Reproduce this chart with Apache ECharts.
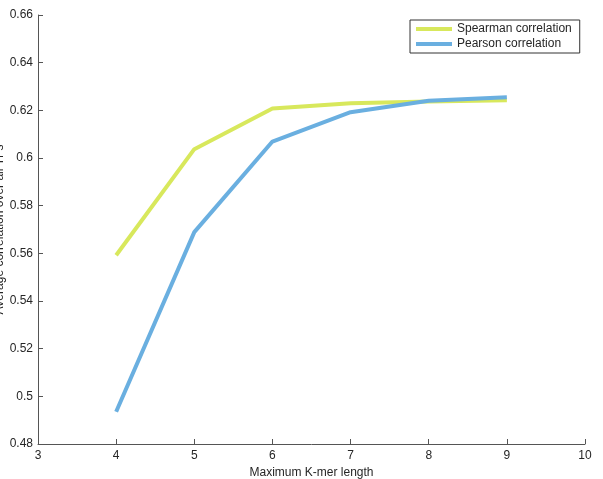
<!DOCTYPE html>
<html>
<head>
<meta charset="utf-8">
<script src="https://cdn.jsdelivr.net/npm/echarts@6/dist/echarts.min.js"></script>
<style>
  html, body { margin: 0; padding: 0; background: #fff; }
  #chart { width: 603px; height: 479px; }
</style>
</head>
<body>
<div id="chart"></div>
<script>
var kmerLength = [4, 5, 6, 7, 8, 9];
var spearman = [0.5592, 0.6037, 0.6208, 0.6230, 0.6237, 0.6242];
var pearson = [0.4935, 0.5689, 0.6069, 0.6192, 0.6240, 0.6255];
var seriesNames = ['Spearman correlation', 'Pearson correlation'];

function pairs(xs, ys) {
  return xs.map(function (x, i) { return [x, ys[i]]; });
}

var chart = echarts.init(document.getElementById('chart'));
var textStyle = { fontFamily: 'Liberation Sans, Arial, sans-serif', color: '#262626', fontSize: 12 };

var option = {
  animation: false,
  backgroundColor: '#fff',
  grid: { left: 38, right: 18, top: 15, bottom: 35, outerBoundsMode: 'none', containLabel: false },
  legend: {
    data: seriesNames,
    orient: 'vertical',
    left: 410,
    top: 20,
    padding: [3, 8, 3, 6],
    itemGap: 3,
    itemWidth: 36,
    itemHeight: 4,
    icon: 'rect',
    borderColor: '#333',
    borderWidth: 1,
    textStyle: { fontFamily: textStyle.fontFamily, color: '#262626', fontSize: 12 }
  },
  xAxis: {
    type: 'value',
    min: 3,
    max: 10,
    interval: 1,
    name: 'Maximum K-mer length',
    nameLocation: 'middle',
    nameGap: 21,
    nameTextStyle: textStyle,
    axisLine: { lineStyle: { color: '#555', width: 1 } },
    axisTick: { inside: true, length: 5, lineStyle: { color: '#555' } },
    axisLabel: { color: '#262626', fontSize: 12, fontFamily: textStyle.fontFamily, margin: 6 },
    splitLine: { show: false }
  },
  yAxis: {
    type: 'value',
    min: 0.48,
    max: 0.66,
    interval: 0.02,
    name: 'Average correlation over all TFs',
    nameLocation: 'middle',
    nameGap: 32,
    nameMoveOverlap: false,
    nameTextStyle: textStyle,
    axisLine: { show: true, lineStyle: { color: '#555', width: 1 } },
    axisTick: { show: true, inside: true, length: 5, lineStyle: { color: '#555' } },
    axisLabel: { color: '#262626', fontSize: 12, fontFamily: textStyle.fontFamily, margin: 5 },
    splitLine: { show: false }
  },
  series: [
    {
      name: seriesNames[0],
      type: 'line',
      data: pairs(kmerLength, spearman),
      symbol: 'none',
      color: '#d8e85c',
      lineStyle: { color: '#d8e85c', width: 4 }
    },
    {
      name: seriesNames[1],
      type: 'line',
      data: pairs(kmerLength, pearson),
      symbol: 'none',
      color: '#6aafe0',
      lineStyle: { color: '#6aafe0', width: 4 }
    }
  ]
};
chart.setOption(option);
</script>
</body>
</html>
